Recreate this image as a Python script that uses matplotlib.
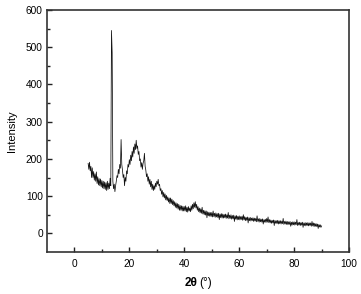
import numpy as np
import matplotlib
matplotlib.use("Agg")
import matplotlib.pyplot as plt

# XRD scan (5-90 deg, 0.25 deg step)
scan_start = 5.0
scan_step = 0.25
intensity = [
    188, 172, 191, 168, 180, 150, 176, 150, 166, 143, 160, 140, 165, 134, 152, 130, 147, 128, 146, 125,
    142, 122, 140, 120, 138, 118, 136, 115, 140, 118, 135, 120, 148, 128, 545, 485, 140, 120, 132, 112,
    128, 140, 155, 150, 172, 160, 185, 175, 252, 185, 170, 150, 158, 128, 150, 140, 168, 160, 185, 178,
    198, 185, 210, 195, 220, 205, 232, 215, 240, 225, 250, 228, 235, 212, 220, 195, 200, 178, 190, 172,
    188, 195, 215, 180, 170, 152, 160, 140, 152, 132, 145, 125, 140, 118, 132, 115, 128, 118, 135, 125,
    140, 132, 145, 128, 132, 115, 120, 105, 115, 98, 110, 95, 106, 90, 102, 88, 98, 84, 95, 80,
    95, 80, 92, 77, 88, 74, 85, 70, 82, 68, 80, 65, 78, 62, 75, 62, 74, 60, 73, 60,
    72, 60, 74, 58, 70, 57, 72, 60, 68, 58, 74, 62, 78, 66, 82, 70, 85, 68, 78, 62,
    72, 58, 68, 55, 66, 54, 70, 52, 62, 50, 61, 49, 60, 42, 58, 47, 57, 46, 56, 45,
    56, 44, 60, 45, 54, 43, 55, 44, 53, 42, 54, 37, 52, 42, 53, 41, 52, 41, 51, 42,
    52, 40, 50, 41, 56, 39, 49, 40, 50, 38, 48, 39, 49, 32, 47, 38, 48, 36, 46, 37,
    47, 36, 45, 37, 46, 35, 50, 36, 45, 34, 43, 35, 44, 28, 42, 34, 43, 33, 41, 34,
    42, 32, 41, 33, 40, 31, 47, 32, 39, 30, 40, 31, 38, 30, 39, 25, 37, 30, 38, 29,
    40, 30, 44, 29, 37, 28, 36, 27, 35, 28, 36, 21, 35, 27, 34, 26, 35, 25, 34, 26,
    34, 25, 33, 26, 40, 24, 32, 25, 33, 24, 32, 23, 31, 24, 32, 19, 30, 22, 31, 23,
    31, 22, 30, 23, 37, 21, 29, 22, 30, 21, 29, 22, 30, 16, 28, 21, 29, 20, 28, 21,
    29, 20, 28, 21, 28, 19, 32, 20, 28, 18, 27, 19, 26, 18, 25, 13, 24, 17, 23, 16,
    20,
]
two_theta = scan_start + scan_step * np.arange(len(intensity))

x_ticks = [0, 20, 40, 60, 80, 100]
y_ticks = [0, 100, 200, 300, 400, 500, 600]

plt.rcParams["font.family"] = ["Liberation Sans", "DejaVu Sans"]

fig = plt.figure(figsize=(3.61, 2.94), dpi=100)
ax = fig.add_axes([0.130, 0.143, 0.837, 0.823])

ax.plot(two_theta, intensity, color="#111111", linewidth=0.55)

ax.set_xticks(x_ticks)
ax.set_yticks(y_ticks)
ax.set_xticks(np.array(x_ticks[:-1]) + 10, minor=True)
ax.set_yticks(np.array(y_ticks[:-1]) + 50, minor=True)
ax.set_xlim(-10, 100)
ax.set_ylim(-50, 600)

ax.tick_params(which="both", direction="in", labelsize=7.3, width=1.0, color="#222222")
ax.tick_params(which="major", length=3.5)
ax.tick_params(which="minor", length=2)
ax.tick_params(axis="x", pad=5)
ax.tick_params(axis="y", pad=3)

for sp in ax.spines.values():
    sp.set_linewidth(1.2)
    sp.set_color("#333333")

ax.set_ylabel("Intensity", fontsize=8, labelpad=6)
ax.text(0.497, -0.128, "2θ", transform=ax.transAxes, fontsize=8.5,
        fontweight="bold", ha="right", va="center")
ax.text(0.503, -0.128, "(°)", transform=ax.transAxes, fontsize=8.5,
        ha="left", va="center")

fig.savefig("out.png", dpi=100)
